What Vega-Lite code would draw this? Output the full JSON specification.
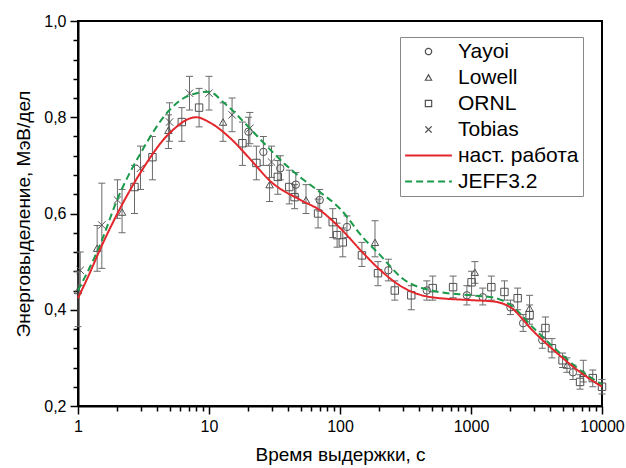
{
  "$schema": "https://vega.github.io/schema/vega-lite/v6.json",
  "width": 524,
  "height": 385,
  "autosize": {"type": "none"},
  "padding": {"left": 78, "top": 21, "right": 24, "bottom": 62},
  "background": "white",
  "config": {
    "view": {"stroke": "black", "strokeWidth": 2},
    "font": "Liberation Sans",
    "axis": {
      "grid": false,
      "domainColor": "black",
      "domainWidth": 2,
      "tickColor": "black",
      "labelColor": "black",
      "titleColor": "black",
      "labelFont": "Liberation Sans",
      "titleFont": "Liberation Sans",
      "labelFontSize": 16,
      "titleFontSize": 19,
      "titleFontWeight": "normal",
      "labelFlush": false,
      "labelOverlap": false
    },
    "legend": {
      "orient": "none",
      "legendX": 322,
      "legendY": 16,
      "padding": 4,
      "strokeColor": "#888888",
      "fillColor": "white",
      "labelFont": "Liberation Sans",
      "labelFontSize": 21,
      "labelColor": "black",
      "symbolSize": 40,
      "symbolStrokeWidth": 1.2,
      "symbolOffset": 14,
      "labelOffset": 19,
      "rowPadding": 4
    }
  },
  "resolve": {"axis": {"x": "independent", "y": "independent"}},
  "datasets": {
    "pts": [
      {"t": 1.04, "y": 0.482, "lo": 0.45, "hi": 0.52, "series": "Tobias"},
      {"t": 1.52, "y": 0.576, "lo": 0.486, "hi": 0.663, "series": "Tobias"},
      {"t": 2.0, "y": 0.628, "lo": 0.59, "hi": 0.67, "series": "Tobias"},
      {"t": 3.0, "y": 0.694, "lo": 0.65, "hi": 0.74, "series": "Tobias"},
      {"t": 5.0, "y": 0.79, "lo": 0.75, "hi": 0.83, "series": "Tobias"},
      {"t": 7.1, "y": 0.85, "lo": 0.815, "hi": 0.885, "series": "Tobias"},
      {"t": 10, "y": 0.85, "lo": 0.815, "hi": 0.885, "series": "Tobias"},
      {"t": 15, "y": 0.805, "lo": 0.77, "hi": 0.84, "series": "Tobias"},
      {"t": 20.5, "y": 0.777, "lo": 0.745, "hi": 0.81, "series": "Tobias"},
      {"t": 30, "y": 0.707, "lo": 0.675, "hi": 0.74, "series": "Tobias"},
      {"t": 1.0, "y": 0.44, "lo": 0.365, "hi": 0.48, "series": "Lowell"},
      {"t": 1.4, "y": 0.528, "lo": 0.48, "hi": 0.575, "series": "Lowell"},
      {"t": 2.17, "y": 0.603, "lo": 0.56, "hi": 0.65, "series": "Lowell"},
      {"t": 4.9, "y": 0.773, "lo": 0.735, "hi": 0.805, "series": "Lowell"},
      {"t": 12.8, "y": 0.79, "lo": 0.75, "hi": 0.83, "series": "Lowell"},
      {"t": 29, "y": 0.66, "lo": 0.625, "hi": 0.7, "series": "Lowell"},
      {"t": 55, "y": 0.628, "lo": 0.6, "hi": 0.66, "series": "Lowell"},
      {"t": 185, "y": 0.54, "lo": 0.51, "hi": 0.585, "series": "Lowell"},
      {"t": 1070, "y": 0.478, "lo": 0.455, "hi": 0.5, "series": "Lowell"},
      {"t": 2800, "y": 0.403, "lo": 0.38, "hi": 0.43, "series": "Lowell"},
      {"t": 5400, "y": 0.285, "lo": 0.27, "hi": 0.3, "series": "Lowell"},
      {"t": 7200, "y": 0.268, "lo": 0.25, "hi": 0.295, "series": "Lowell"},
      {"t": 2.7, "y": 0.655, "lo": 0.6, "hi": 0.7, "series": "ORNL"},
      {"t": 3.7, "y": 0.717, "lo": 0.67, "hi": 0.76, "series": "ORNL"},
      {"t": 6.2, "y": 0.79, "lo": 0.75, "hi": 0.82, "series": "ORNL"},
      {"t": 8.4, "y": 0.82, "lo": 0.78, "hi": 0.86, "series": "ORNL"},
      {"t": 18, "y": 0.746, "lo": 0.7, "hi": 0.79, "series": "ORNL"},
      {"t": 23, "y": 0.705, "lo": 0.67, "hi": 0.74, "series": "ORNL"},
      {"t": 33.5, "y": 0.676, "lo": 0.64, "hi": 0.71, "series": "ORNL"},
      {"t": 41, "y": 0.655, "lo": 0.62, "hi": 0.69, "series": "ORNL"},
      {"t": 45, "y": 0.634, "lo": 0.61, "hi": 0.66, "series": "ORNL"},
      {"t": 68, "y": 0.6, "lo": 0.57, "hi": 0.63, "series": "ORNL"},
      {"t": 88, "y": 0.582, "lo": 0.55, "hi": 0.61, "series": "ORNL"},
      {"t": 95, "y": 0.555, "lo": 0.53, "hi": 0.58, "series": "ORNL"},
      {"t": 105, "y": 0.54, "lo": 0.51, "hi": 0.57, "series": "ORNL"},
      {"t": 147, "y": 0.513, "lo": 0.49, "hi": 0.54, "series": "ORNL"},
      {"t": 195, "y": 0.476, "lo": 0.45, "hi": 0.5, "series": "ORNL"},
      {"t": 262, "y": 0.44, "lo": 0.42, "hi": 0.46, "series": "ORNL"},
      {"t": 350, "y": 0.43, "lo": 0.4, "hi": 0.45, "series": "ORNL"},
      {"t": 510, "y": 0.445, "lo": 0.42, "hi": 0.47, "series": "ORNL"},
      {"t": 730, "y": 0.447, "lo": 0.425, "hi": 0.47, "series": "ORNL"},
      {"t": 1010, "y": 0.457, "lo": 0.43, "hi": 0.48, "series": "ORNL"},
      {"t": 1430, "y": 0.447, "lo": 0.42, "hi": 0.47, "series": "ORNL"},
      {"t": 1800, "y": 0.437, "lo": 0.42, "hi": 0.46, "series": "ORNL"},
      {"t": 2270, "y": 0.424, "lo": 0.4, "hi": 0.445, "series": "ORNL"},
      {"t": 2800, "y": 0.389, "lo": 0.37, "hi": 0.41, "series": "ORNL"},
      {"t": 3700, "y": 0.362, "lo": 0.34, "hi": 0.385, "series": "ORNL"},
      {"t": 4150, "y": 0.32, "lo": 0.3, "hi": 0.34, "series": "ORNL"},
      {"t": 5000, "y": 0.295, "lo": 0.28, "hi": 0.31, "series": "ORNL"},
      {"t": 6800, "y": 0.25, "lo": 0.235, "hi": 0.265, "series": "ORNL"},
      {"t": 8500, "y": 0.258, "lo": 0.24, "hi": 0.275, "series": "ORNL"},
      {"t": 10000, "y": 0.24, "lo": 0.225, "hi": 0.255, "series": "ORNL"},
      {"t": 20, "y": 0.77, "lo": 0.74, "hi": 0.8, "series": "Yayoi"},
      {"t": 26, "y": 0.728, "lo": 0.7, "hi": 0.76, "series": "Yayoi"},
      {"t": 35, "y": 0.694, "lo": 0.67, "hi": 0.72, "series": "Yayoi"},
      {"t": 46, "y": 0.66, "lo": 0.635, "hi": 0.685, "series": "Yayoi"},
      {"t": 70, "y": 0.628, "lo": 0.605, "hi": 0.65, "series": "Yayoi"},
      {"t": 113, "y": 0.572, "lo": 0.55, "hi": 0.595, "series": "Yayoi"},
      {"t": 234, "y": 0.482, "lo": 0.46, "hi": 0.505, "series": "Yayoi"},
      {"t": 460, "y": 0.44, "lo": 0.42, "hi": 0.46, "series": "Yayoi"},
      {"t": 930, "y": 0.43, "lo": 0.41, "hi": 0.45, "series": "Yayoi"},
      {"t": 1230, "y": 0.426, "lo": 0.41, "hi": 0.445, "series": "Yayoi"},
      {"t": 2000, "y": 0.405, "lo": 0.39, "hi": 0.42, "series": "Yayoi"},
      {"t": 2500, "y": 0.372, "lo": 0.355, "hi": 0.39, "series": "Yayoi"},
      {"t": 3500, "y": 0.337, "lo": 0.32, "hi": 0.355, "series": "Yayoi"},
      {"t": 6000, "y": 0.27, "lo": 0.255, "hi": 0.285, "series": "Yayoi"}
    ],
    "lines": [
      {"t": 1, "y": 0.44, "series": "JEFF3.2"},
      {"t": 1.5, "y": 0.54, "series": "JEFF3.2"},
      {"t": 2, "y": 0.63, "series": "JEFF3.2"},
      {"t": 3, "y": 0.725, "series": "JEFF3.2"},
      {"t": 5, "y": 0.815, "series": "JEFF3.2"},
      {"t": 7, "y": 0.845, "series": "JEFF3.2"},
      {"t": 10, "y": 0.853, "series": "JEFF3.2"},
      {"t": 13, "y": 0.83, "series": "JEFF3.2"},
      {"t": 15, "y": 0.815, "series": "JEFF3.2"},
      {"t": 20, "y": 0.78, "series": "JEFF3.2"},
      {"t": 30, "y": 0.73, "series": "JEFF3.2"},
      {"t": 40, "y": 0.697, "series": "JEFF3.2"},
      {"t": 50, "y": 0.675, "series": "JEFF3.2"},
      {"t": 70, "y": 0.645, "series": "JEFF3.2"},
      {"t": 100, "y": 0.61, "series": "JEFF3.2"},
      {"t": 150, "y": 0.55, "series": "JEFF3.2"},
      {"t": 200, "y": 0.515, "series": "JEFF3.2"},
      {"t": 300, "y": 0.465, "series": "JEFF3.2"},
      {"t": 500, "y": 0.44, "series": "JEFF3.2"},
      {"t": 1000, "y": 0.43, "series": "JEFF3.2"},
      {"t": 1500, "y": 0.425, "series": "JEFF3.2"},
      {"t": 2000, "y": 0.41, "series": "JEFF3.2"},
      {"t": 3000, "y": 0.362, "series": "JEFF3.2"},
      {"t": 5000, "y": 0.305, "series": "JEFF3.2"},
      {"t": 7000, "y": 0.272, "series": "JEFF3.2"},
      {"t": 10000, "y": 0.245, "series": "JEFF3.2"},
      {"t": 1, "y": 0.424, "series": "наст. работа"},
      {"t": 1.2, "y": 0.47, "series": "наст. работа"},
      {"t": 1.5, "y": 0.53, "series": "наст. работа"},
      {"t": 2, "y": 0.6, "series": "наст. работа"},
      {"t": 3, "y": 0.685, "series": "наст. работа"},
      {"t": 5, "y": 0.767, "series": "наст. работа"},
      {"t": 8, "y": 0.8, "series": "наст. работа"},
      {"t": 10, "y": 0.79, "series": "наст. работа"},
      {"t": 15, "y": 0.753, "series": "наст. работа"},
      {"t": 20, "y": 0.717, "series": "наст. работа"},
      {"t": 30, "y": 0.665, "series": "наст. работа"},
      {"t": 50, "y": 0.628, "series": "наст. работа"},
      {"t": 70, "y": 0.607, "series": "наст. работа"},
      {"t": 100, "y": 0.57, "series": "наст. работа"},
      {"t": 150, "y": 0.518, "series": "наст. работа"},
      {"t": 200, "y": 0.484, "series": "наст. работа"},
      {"t": 300, "y": 0.447, "series": "наст. работа"},
      {"t": 500, "y": 0.426, "series": "наст. работа"},
      {"t": 1000, "y": 0.42, "series": "наст. работа"},
      {"t": 1500, "y": 0.417, "series": "наст. работа"},
      {"t": 2000, "y": 0.405, "series": "наст. работа"},
      {"t": 3000, "y": 0.355, "series": "наст. работа"},
      {"t": 5000, "y": 0.3, "series": "наст. работа"},
      {"t": 7000, "y": 0.268, "series": "наст. работа"},
      {"t": 10000, "y": 0.24, "series": "наст. работа"}
    ]
  },
  "layer": [
    {
      "data": {"name": "pts"},
      "mark": {"type": "rule", "color": "#6a6a6a", "strokeWidth": 1},
      "encoding": {
        "x": {
          "field": "t", "type": "quantitative",
          "scale": {"type": "log", "domain": [1, 10000], "nice": false},
          "axis": {
            "orient": "bottom",
            "title": "Время выдержки, с",
            "values": [1, 10, 100, 1000, 10000],
            "format": "d",
            "tickSize": 8,
            "tickWidth": 1.5,
            "labelPadding": 4,
            "titlePadding": 11,
            "labelOverlap": false
          }
        },
        "y": {
          "field": "lo", "type": "quantitative",
          "scale": {"domain": [0.2, 1.0], "nice": false, "zero": false},
          "axis": {
            "orient": "left",
            "title": "Энерговыделение, МэВ/дел",
            "values": [0.2, 0.4, 0.6, 0.8, 1.0],
            "labelExpr": "replace(format(datum.value, '.1f'), '.', ',')",
            "tickSize": 8,
            "tickWidth": 1.5,
            "labelPadding": 4,
            "titlePadding": 10,
            "labelOverlap": false
          }
        },
        "y2": {"field": "hi"}
      }
    },
    {
      "data": {"name": "pts"},
      "mark": {"type": "tick", "orient": "horizontal", "color": "#6a6a6a", "size": 7, "thickness": 1, "opacity": 1},
      "encoding": {
        "x": {
          "field": "t", "type": "quantitative",
          "axis": {
            "orient": "bottom",
            "title": null,
            "values": [2,3,4,5,6,7,8,9,20,30,40,50,60,70,80,90,200,300,400,500,600,700,800,900,2000,3000,4000,5000,6000,7000,8000,9000],
            "labels": false,
            "domain": false,
            "tickSize": 5,
            "tickWidth": 1.5
          }
        },
        "y": {
          "field": "lo", "type": "quantitative",
          "axis": {
            "orient": "left",
            "title": null,
            "values": [0.24,0.28,0.32,0.36,0.44,0.48,0.52,0.56,0.64,0.68,0.72,0.76,0.84,0.88,0.92,0.96],
            "labels": false,
            "domain": false,
            "tickSize": 5,
            "tickWidth": 1.5
          }
        }
      }
    },
    {
      "data": {"name": "pts"},
      "mark": {"type": "tick", "orient": "horizontal", "color": "#6a6a6a", "size": 7, "thickness": 1, "opacity": 1},
      "encoding": {
        "x": {"field": "t", "type": "quantitative", "axis": null},
        "y": {"field": "hi", "type": "quantitative", "axis": null}
      }
    },
    {
      "data": {"name": "pts"},
      "mark": {"type": "point", "filled": false, "size": 55, "strokeWidth": 1, "opacity": 1},
      "encoding": {
        "x": {"field": "t", "type": "quantitative", "axis": null},
        "y": {"field": "y", "type": "quantitative", "axis": null},
        "color": {
          "field": "series", "type": "nominal",
          "scale": {"domain": ["Yayoi", "Lowell", "ORNL", "Tobias", "наст. работа", "JEFF3.2"], "range": ["#505050", "#505050", "#505050", "#505050", "#e3262b", "#1a9a4a"]},
          "legend": {"title": null}
        },
        "shape": {
          "field": "series", "type": "nominal",
          "scale": {"domain": ["Yayoi", "Lowell", "ORNL", "Tobias", "наст. работа", "JEFF3.2"], "range": ["circle", "triangle-up", "square", "M-1,-1L1,1M-1,1L1,-1", "M-7.4,-0.15L7.4,-0.15M-7.4,0.15L7.4,0.15", "M-7.4,-0.15L7.4,-0.15M-7.4,0.15L7.4,0.15"]},
          "legend": {"title": null}
        }
      }
    },
    {
      "data": {"name": "lines"},
      "mark": {"type": "line", "strokeWidth": 2, "interpolate": "monotone"},
      "encoding": {
        "x": {"field": "t", "type": "quantitative", "axis": null},
        "y": {"field": "y", "type": "quantitative", "axis": null},
        "color": {
          "field": "series", "type": "nominal",
          "scale": {"domain": ["Yayoi", "Lowell", "ORNL", "Tobias", "наст. работа", "JEFF3.2"], "range": ["#505050", "#505050", "#505050", "#505050", "#e3262b", "#1a9a4a"]},
          "legend": {"title": null}
        },
        "strokeDash": {
          "field": "series", "type": "nominal",
          "scale": {"domain": ["Yayoi", "Lowell", "ORNL", "Tobias", "наст. работа", "JEFF3.2"], "range": [[1,0],[1,0],[1,0],[1,0],[1,0],[7,4]]},
          "legend": {"title": null}
        }
      }
    }
  ]
}
